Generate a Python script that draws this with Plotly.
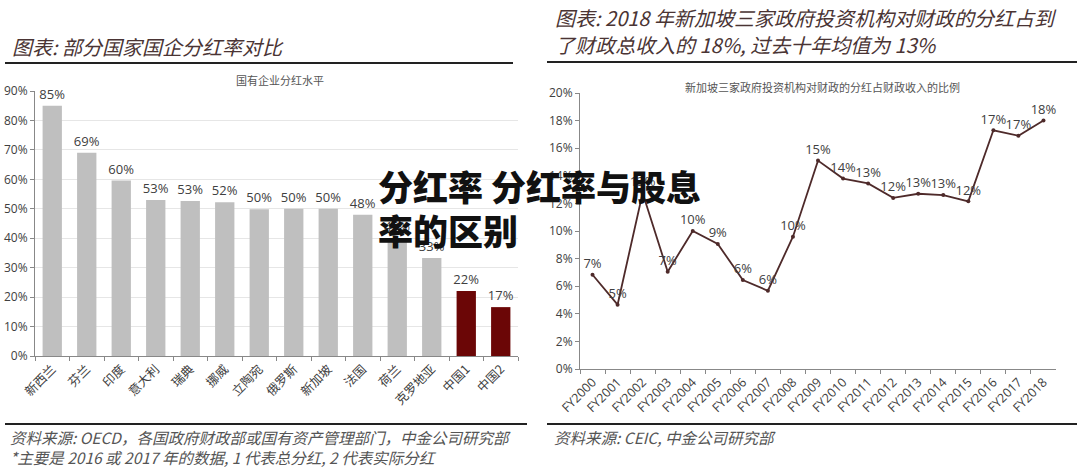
import plotly.graph_objects as go

# ---- data ----
countries = ["新西兰", "芬兰", "印度", "意大利", "瑞典", "挪威", "立陶宛", "俄罗斯",
             "新加坡", "法国", "荷兰", "克罗地亚", "中国1", "中国2"]
payout = [85, 69, 59.6, 53, 52.6, 52.2, 49.8, 50, 50, 48, 40, 33.3, 22.1, 16.6]
bar_colors = ["#bfbfbf"] * 12 + ["#6b0606", "#6b0606"]

years = ["FY2000", "FY2001", "FY2002", "FY2003", "FY2004", "FY2005", "FY2006",
         "FY2007", "FY2008", "FY2009", "FY2010", "FY2011", "FY2012", "FY2013",
         "FY2014", "FY2015", "FY2016", "FY2017", "FY2018"]
ratio = [6.83, 4.66, 12.75, 7.05, 10.0, 9.06, 6.45, 5.67, 9.59, 15.1, 13.8,
         13.45, 12.4, 12.7, 12.6, 12.15, 17.3, 16.9, 18.0]

W, H = 1080, 469
def px(x):
    return x / W
def py(y):
    return 1 - y / H

SANS = "Open Sans, Noto Sans CJK SC, sans-serif"
CJK = "Noto Sans CJK SC, sans-serif"
HEAD_COLOR = "#4a3434"

fig = go.Figure()

fig.add_trace(go.Bar(
    x=countries, y=payout, marker=dict(color=bar_colors, line=dict(width=0)),
    width=0.56, text=payout, texttemplate="%{y:.0f}%", textposition="outside",
    constraintext="none",
    textfont=dict(family=SANS, size=13, color="#404040"), cliponaxis=False,
    xaxis="x", yaxis="y", showlegend=False, hoverinfo="skip"))

fig.add_trace(go.Scatter(
    x=years, y=ratio, mode="lines+markers+text",
    line=dict(color="#4e2a2a", width=1.8), marker=dict(size=4, color="#4e2a2a"),
    text=ratio, texttemplate="%{y:.0f}%", textposition="top center",
    textfont=dict(family=SANS, size=13, color="#404040"), cliponaxis=False,
    xaxis="x2", yaxis="y2", showlegend=False, hoverinfo="skip"))

def ax(**kw):
    base = dict(showline=True, linecolor="#888888", linewidth=1, ticks="outside",
                tickcolor="#888888", ticklen=4, automargin=False,
                tickfont=dict(family=SANS, size=12, color="#404040"))
    base.update(kw)
    return base

fig.update_layout(
    width=W, height=H, margin=dict(l=0, r=0, t=0, b=0, pad=0, autoexpand=False),
    paper_bgcolor="white", plot_bgcolor="white",
    xaxis=ax(domain=[px(35), px(518)], anchor="y", type="category",
             range=[-0.5, len(countries) - 0.5],
             tickson="boundaries", tickangle=-45, showgrid=False,
             tickfont=dict(family=CJK, size=12.5, color="#404040")),
    yaxis=ax(domain=[py(356), py(91)], anchor="x", range=[0, 90], dtick=10,
             ticksuffix="%", showgrid=True, gridcolor="#e6e6e6", zeroline=False),
    xaxis2=ax(domain=[px(580), px(1056)], anchor="y2", type="category",
              range=[-0.5, len(years) - 0.5],
              tickson="boundaries", tickangle=-45, showgrid=False,
              tickfont=dict(family=SANS, size=12.5, color="#404040")),
    yaxis2=ax(domain=[py(369), py(93)], anchor="x2", range=[0, 20], dtick=2,
              ticksuffix="%", showgrid=False, zeroline=False),
)

ann = []
def note(x, y, text, size, color, xanchor="left", **fkw):
    ann.append(dict(x=px(x), y=py(y), xref="paper", yref="paper", xanchor=xanchor,
                    yanchor="middle", text=text, showarrow=False,
                    font=dict(family=CJK, size=size, color=color, **fkw)))

# headers
note(10, 47, "图表: 部分国家国企分红率对比", 20, HEAD_COLOR, style="italic")
note(553, 17, "图表: 2018 年新加坡三家政府投资机构对财政的分红占到", 20, HEAD_COLOR, style="italic")
note(553, 44, "了财政总收入的 18%, 过去十年均值为 13%", 20, HEAD_COLOR, style="italic")
# chart titles
note(280, 80, "国有企业分红水平", 11, "#555555", xanchor="center")
note(822, 87, "新加坡三家政府投资机构对财政的分红占财政收入的比例", 11, "#555555", xanchor="center")
# footnotes
note(8, 437, "资料来源: OECD，各国政府财政部或国有资产管理部门，中金公司研究部", 15.5, "#555555", style="italic")
note(8, 457, "*主要是 2016 或 2017 年的数据, 1 代表总分红, 2 代表实际分红", 15.5, "#555555", style="italic")
note(552, 437, "资料来源: CEIC, 中金公司研究部", 15.5, "#555555", style="italic")
# overlay title
note(376, 185, "分红率 分红率与股息", 35, "#111111", weight=900)
note(376, 230, "率的区别", 35, "#111111", weight=900)
fig.update_layout(annotations=ann)

shapes = []
for x0, x1, y in [(5, 513, 63), (547, 1077, 62), (5, 527, 424), (547, 1077, 424)]:
    shapes.append(dict(type="line", xref="paper", yref="paper", x0=px(x0), x1=px(x1),
                       y0=py(y), y1=py(y), line=dict(color="#222222", width=2)))
fig.update_layout(shapes=shapes)

fig.write_html("out.html")
